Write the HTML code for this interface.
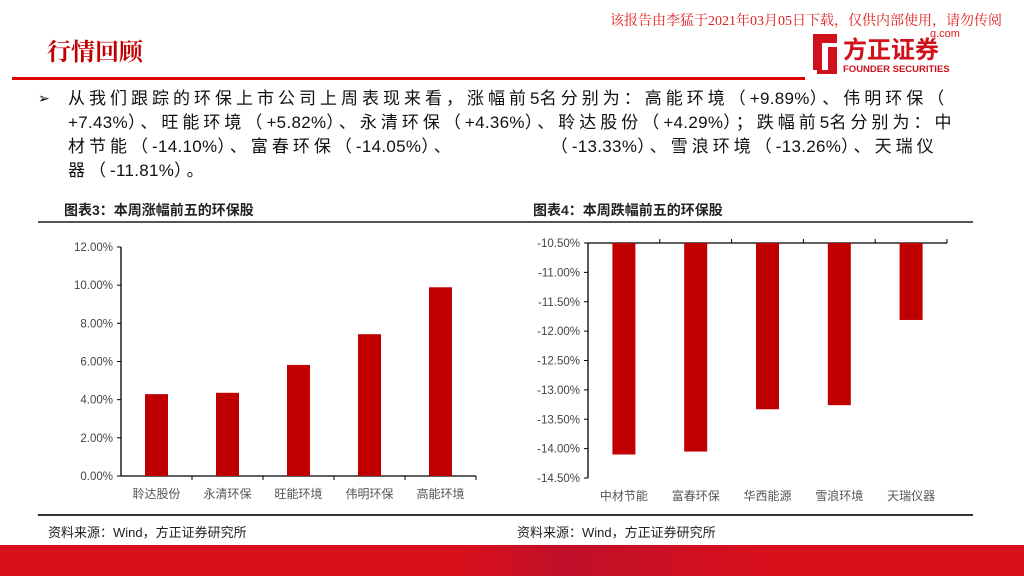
<!DOCTYPE html>
<html><head><meta charset="utf-8">
<style>
body{margin:0;width:1024px;height:576px;overflow:hidden;background:#fff;font-family:"Liberation Sans","Noto Sans CJK SC",sans-serif;position:relative}
.abs{position:absolute}
.txt{font-size:17px;color:#111;line-height:24px;letter-spacing:4px;white-space:nowrap}
.txt b{font-weight:normal;letter-spacing:0.3px}
</style></head><body>
<div class="abs" style="left:610px;top:10px;font-family:'Liberation Serif','Noto Serif CJK SC',serif;font-size:14px;color:#e02020;white-space:nowrap">该报告由李猛于2021年03月05日下载，仅供内部使用，请勿传阅</div>
<div class="abs" style="left:930px;top:28px;font-size:11px;color:#e02020">q.com</div>
<div class="abs" style="left:47px;top:32px;font-size:24px;color:#c00000;font-family:'Noto Serif CJK SC',serif;font-weight:bold">行情回顾</div>
<div class="abs" style="left:12px;top:77px;width:793px;height:3px;background:#e00000"></div>
<div class="abs" style="left:813px;top:32px;width:165px;height:44px">
<svg width="165" height="44"><path d="M0 2 H24 V11 H9 V38 H0Z M15 15 H24 V42 H4 V38 H15Z" fill="#d0101b"/><text x="30" y="26" font-size="24" font-weight="bold" fill="#d0101b" font-family="Noto Sans CJK SC,sans-serif">方正证券</text><text x="30" y="40" font-size="9.5" font-weight="bold" fill="#d0101b">FOUNDER SECURITIES</text></svg></div>
<div class="abs" style="left:38px;top:90px;font-size:14px">➢</div>
<div class="abs txt" style="left:68px;top:87px;width:960px">从我们跟踪的环保上市公司上周表现来看，涨幅前<b>5</b>名分别为：高能环境（<b>+9.89%</b>）、伟明环保（<br><b>+7.43%</b>）、旺能环境（<b>+5.82%</b>）、永清环保（<b>+4.36%</b>）、聆达股份（<b>+4.29%</b>）；跌幅前<b>5</b>名分别为：中<br>材节能（<b>-14.10%</b>）、富春环保（<b>-14.05%</b>）、&nbsp;&nbsp;&nbsp;&nbsp;&nbsp;&nbsp;&nbsp;&nbsp;&nbsp;&nbsp;&nbsp;（<b>-13.33%</b>）、雪浪环境（<b>-13.26%</b>）、天瑞仪<br>器（<b>-11.81%</b>）。</div>
<div class="abs" style="left:64px;top:200px;font-size:14px;font-weight:bold;color:#222">图表3：本周涨幅前五的环保股</div>
<div class="abs" style="left:533px;top:200px;font-size:14px;font-weight:bold;color:#222">图表4：本周跌幅前五的环保股</div>
<div class="abs" style="left:38px;top:221px;width:462px;height:2px;background:#555"></div>
<div class="abs" style="left:500px;top:221px;width:473px;height:2px;background:#555"></div>
<div class="abs" style="left:38px;top:514px;width:462px;height:2px;background:#333"></div>
<div class="abs" style="left:500px;top:514px;width:473px;height:2px;background:#333"></div>
<div class="abs" style="left:48px;top:522px;font-size:13px;color:#222">资料来源：Wind，方正证券研究所</div>
<div class="abs" style="left:517px;top:522px;font-size:13px;color:#222">资料来源：Wind，方正证券研究所</div>
<div class="abs" style="left:0;top:545px;width:1024px;height:31px;background:linear-gradient(90deg,#d90f1c 0%,#d90f1c 45%,#c0102a 55%,#d90f1c 75%)"></div>
<svg class="abs" id="svg" style="left:0;top:0" width="1024" height="576"></svg>
<script>
const upCats=["聆达股份","永清环保","旺能环境","伟明环保","高能环境"];
const upVals=[4.29,4.36,5.82,7.43,9.89];
const upTicks=[0,2,4,6,8,10,12];
const downCats=["中材节能","富春环保","华西能源","雪浪环境","天瑞仪器"];
const downVals=[-14.10,-14.05,-13.33,-13.26,-11.81];
const downTicks=[-10.5,-11,-11.5,-12,-12.5,-13,-13.5,-14,-14.5];
const NS="http://www.w3.org/2000/svg";
const svg=document.getElementById('svg');
function mk(t,a,txt){const e=document.createElementNS(NS,t);for(const k in a)e.setAttribute(k,a[k]);if(txt!=null)e.textContent=txt;svg.appendChild(e);return e;}
function chart(cfg){
 const {x0,x1,yTop,yBot,min,max,cats,vals,ticks,pref,base,catY}=cfg;
 const y=v=>yTop+(max-v)/(max-min)*(yBot-yTop);
 const bw=(x1-x0)/cats.length;
 let e=mk('line',{x1:x0,y1:yTop,x2:x0,y2:yBot,stroke:'#000','stroke-width':1.3});
 
 const ay=y(base);
 e=mk('line',{x1:x0,y1:ay,x2:x1,y2:ay,stroke:'#000','stroke-width':1.3});
 
 ticks.forEach(t=>{
  mk('line',{x1:x0-4,y1:y(t),x2:x0,y2:y(t),stroke:'#000'});
  e=mk('text',{x:x0-8,y:y(t)+4,'text-anchor':'end','font-size':11.5,fill:'#444'},t.toFixed(2)+'%');
  
 });
 cats.forEach((c,i)=>{
  const cx=x0+bw*(i+0.5);
  mk('line',{x1:x0+bw*(i+1),y1:ay,x2:x0+bw*(i+1),y2:ay+(base===max?-4:4),stroke:'#000'});
  const v=vals[i];
  e=mk('rect',{x:cx-11.5,y:Math.min(y(v),ay),width:23,height:Math.abs(y(v)-ay),fill:'#c00000'});
  
  e=mk('text',{x:cx,y:catY,'text-anchor':'middle','font-size':12,fill:'#555'},c);
  
 });
}
chart({x0:121,x1:476,yTop:247,yBot:476,min:0,max:12,cats:upCats,vals:upVals,ticks:upTicks,pref:'chart3',base:0,catY:498});
chart({x0:588,x1:947,yTop:243,yBot:478,min:-14.5,max:-10.5,cats:downCats,vals:downVals,ticks:downTicks,pref:'chart4',base:-10.5,catY:500});
</script>
</body></html>
